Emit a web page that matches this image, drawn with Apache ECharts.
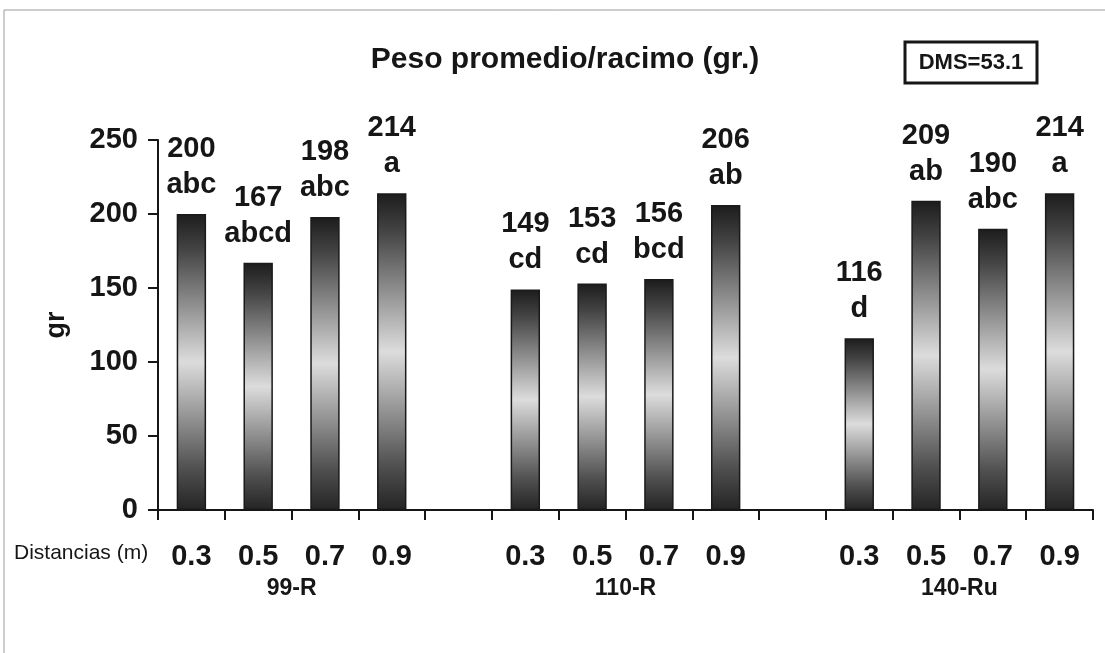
<!DOCTYPE html>
<html>
<head>
<meta charset="utf-8">
<script src="https://cdn.jsdelivr.net/npm/echarts@6/dist/echarts.min.js"></script>
<style>
  html, body { margin: 0; padding: 0; background: #ffffff; }
  #chart { width: 1105px; height: 653px; }
</style>
</head>
<body>
<div id="chart"></div>
<script>
// Distances (m) per rootstock; blank slots separate the three rootstock groups
const categories = ['0.3', '0.5', '0.7', '0.9', '', '0.3', '0.5', '0.7', '0.9', '', '0.3', '0.5', '0.7', '0.9'];
// Mean bunch weight (g)
const values = [200, 167, 198, 214, null, 149, 153, 156, 206, null, 116, 209, 190, 214];
// Significance letters (Tukey groups)
const letters = ['abc', 'abcd', 'abc', 'a', '', 'cd', 'cd', 'bcd', 'ab', '', 'd', 'ab', 'abc', 'a'];
// Rootstock names and the slot index each one is centred on
const groups = ['99-R', '110-R', '140-Ru'];
const groupCenters = [1.5, 6.5, 11.5];
const yTicks = [0, 50, 100, 150, 200, 250];

const FONT = '"Liberation Sans", Arial, sans-serif';
const INK = '#161616';

const chart = echarts.init(document.getElementById('chart'), null, { renderer: 'canvas' });

const barFill = new echarts.graphic.LinearGradient(0, 0, 0, 1, [
  { offset: 0, color: '#1c1c1c' },
  { offset: 0.12, color: '#444444' },
  { offset: 0.5, color: '#dcdcdc' },
  { offset: 0.86, color: '#505050' },
  { offset: 1, color: '#242424' }
]);

const option = {
  backgroundColor: '#ffffff',
  animation: false,
  textStyle: { fontFamily: FONT, color: INK },
  title: {
    text: 'Peso promedio/racimo (gr.)',
    left: 560,
    textAlign: 'center',
    top: 40,
    textStyle: { fontFamily: FONT, fontSize: 30, fontWeight: 'bold', color: INK }
  },
  grid: { left: 158, right: 12, top: 140, bottom: 143 },
  xAxis: {
    type: 'category',
    data: categories,
    boundaryGap: true,
    axisLine: { lineStyle: { color: INK, width: 2 } },
    axisTick: { show: true, interval: 0, length: 10, inside: false, lineStyle: { color: INK, width: 2 } },
    axisLabel: {
      interval: 0, margin: 32,
      fontFamily: FONT, fontSize: 29, fontWeight: 'bold', color: INK
    }
  },
  yAxis: {
    type: 'value',
    min: yTicks[0],
    max: yTicks[yTicks.length - 1],
    interval: yTicks[1] - yTicks[0],
    name: 'gr',
    nameLocation: 'middle',
    nameRotate: 90,
    nameGap: 88,
    nameTextStyle: { fontFamily: FONT, fontSize: 27, fontWeight: 'bold', color: INK },
    splitLine: { show: false },
    axisLine: { show: true, lineStyle: { color: INK, width: 2 } },
    axisTick: { show: true, length: 10, lineStyle: { color: INK, width: 2 } },
    axisLabel: { margin: 20, fontFamily: FONT, fontSize: 29, fontWeight: 'bold', color: INK }
  },
  series: [{
    type: 'bar',
    barWidth: '44%',
    data: values.map((v, i) => ({ value: v, letter: letters[i] })),
    itemStyle: { color: barFill, borderColor: '#1a1a1a', borderWidth: 1.5 },
    label: {
      show: true,
      position: 'top',
      distance: 11,
      lineHeight: 36,
      fontFamily: FONT,
      fontSize: 29,
      fontWeight: 'bold',
      color: INK,
      formatter: p => p.value == null ? '' : p.value + '\n' + letters[p.dataIndex]
    }
  }]
};

chart.setOption(option);

// Frame edges, DMS box, axis caption and rootstock names
function drawExtras() {
  const axisY = chart.convertToPixel({ yAxisIndex: 0 }, 0);
  const extras = [
    {
      type: 'polyline', silent: true, z: -1,
      shape: { points: [[4, 653], [4, 10], [1105, 10]] },
      style: { fill: null, stroke: '#9a9a9a', lineWidth: 1 }
    },
    {
      type: 'rect',
      shape: { x: 905, y: 42, width: 132, height: 41 },
      style: { fill: '#ffffff', stroke: INK, lineWidth: 3 }
    },
    {
      type: 'text',
      x: 971, y: 63,
      style: {
        text: 'DMS=53.1', fill: INK, align: 'center', verticalAlign: 'middle',
        font: 'bold 22px ' + FONT
      }
    },
    {
      type: 'text',
      x: 14, y: axisY + 43,
      style: {
        text: 'Distancias (m)', fill: INK, align: 'left', verticalAlign: 'middle',
        font: '21px ' + FONT
      }
    }
  ];
  groups.forEach((g, i) => {
    const left = chart.convertToPixel({ xAxisIndex: 0 }, Math.floor(groupCenters[i]));
    const right = chart.convertToPixel({ xAxisIndex: 0 }, Math.ceil(groupCenters[i]));
    extras.push({
      type: 'text',
      x: (left + right) / 2, y: axisY + 79,
      style: {
        text: g, fill: INK, align: 'center', verticalAlign: 'middle',
        font: 'bold 23px ' + FONT
      }
    });
  });
  chart.setOption({ graphic: extras });
}
drawExtras();
</script>
</body>
</html>
